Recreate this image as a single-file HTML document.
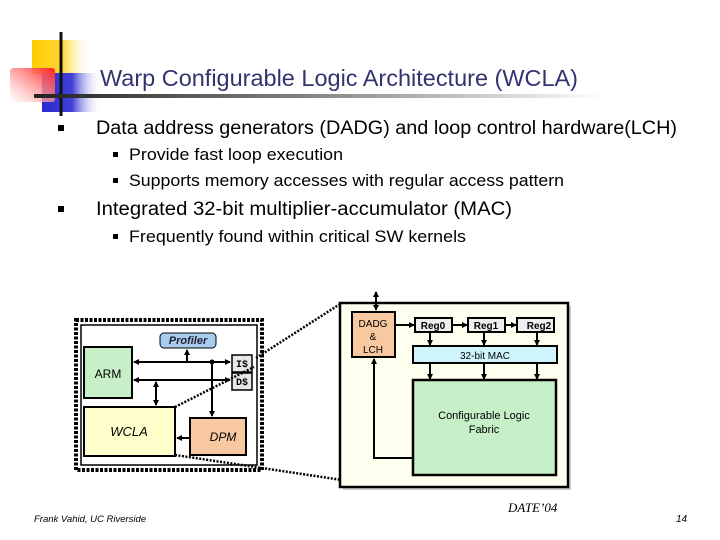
<!DOCTYPE html>
<html><head><meta charset="utf-8"><style>
html,body{margin:0;padding:0;background:#fff;}
svg{display:block;}
</style></head><body>
<svg width="720" height="540" viewBox="0 0 720 540" xmlns="http://www.w3.org/2000/svg" font-family="Liberation Sans, sans-serif">
<defs>
<linearGradient id="gy" x1="0" x2="1"><stop offset="0" stop-color="#ffcc00"/><stop offset="0.5" stop-color="#ffd633"/><stop offset="1" stop-color="#fff" stop-opacity="0"/></linearGradient>
<linearGradient id="gb" x1="0" x2="1"><stop offset="0" stop-color="#2a2ad0"/><stop offset="0.5" stop-color="#4040d8"/><stop offset="1" stop-color="#fff" stop-opacity="0"/></linearGradient>
<linearGradient id="gr" x1="1" x2="0" y1="0" y2="1"><stop offset="0" stop-color="#ff2020"/><stop offset="1" stop-color="#ffffff" stop-opacity="0.6"/></linearGradient>
<linearGradient id="gl" x1="0" x2="1"><stop offset="0" stop-color="#222"/><stop offset="0.5" stop-color="#888"/><stop offset="1" stop-color="#fff"/></linearGradient>
<marker id="a" markerWidth="6" markerHeight="6" refX="5" refY="3" orient="auto-start-reverse" markerUnits="userSpaceOnUse"><path d="M0,0 L6,3 L0,6 z" fill="#000"/></marker>
</defs>
<!-- logo -->
<rect x="32" y="40" width="60" height="34" fill="url(#gy)"/>
<rect x="42" y="73" width="60" height="39" fill="url(#gb)"/>
<rect x="10" y="68" width="45" height="34" rx="3" fill="url(#gr)"/>
<line x1="61" y1="32" x2="61" y2="116" stroke="#111" stroke-width="3"/>
<rect x="34" y="94" width="570" height="4" fill="url(#gl)"/>
<text x="100" y="86" font-size="23" fill="#333370" textLength="478" lengthAdjust="spacingAndGlyphs">Warp Configurable Logic Architecture (WCLA)</text>
<!-- bullets -->
<g fill="#000">
<rect x="58" y="125" width="6" height="6"/>
<rect x="113" y="152" width="5" height="5"/>
<rect x="113" y="178" width="5" height="5"/>
<rect x="58" y="206" width="6" height="6"/>
<rect x="113" y="234" width="5" height="5"/>
</g>
<g fill="#000">
<text x="96" y="134" font-size="19" textLength="581" lengthAdjust="spacingAndGlyphs">Data address generators (DADG) and loop control hardware(LCH)</text>
<text x="129" y="160" font-size="17" textLength="214" lengthAdjust="spacingAndGlyphs">Provide fast loop execution</text>
<text x="129" y="186" font-size="17" textLength="435" lengthAdjust="spacingAndGlyphs">Supports memory accesses with regular access pattern</text>
<text x="96" y="215" font-size="19" textLength="416" lengthAdjust="spacingAndGlyphs">Integrated 32-bit multiplier-accumulator (MAC)</text>
<text x="129" y="242" font-size="17" textLength="337" lengthAdjust="spacingAndGlyphs">Frequently found within critical SW kernels</text>
</g>
<!-- chip -->
<rect x="76" y="320" width="186" height="150" fill="#fff" stroke="#000" stroke-width="4" stroke-dasharray="3,1.5"/>
<rect x="81" y="325" width="176" height="140" fill="#fff" stroke="#000" stroke-width="1.5"/>
<rect x="84" y="347" width="48" height="51" fill="#c8f0c8" stroke="#000" stroke-width="2"/>
<text x="108" y="378" font-size="12" text-anchor="middle">ARM</text>
<rect x="84" y="407" width="91" height="49" fill="#ffffcc" stroke="#000" stroke-width="2"/>
<text x="129" y="436" font-size="13" font-style="italic" text-anchor="middle">WCLA</text>
<rect x="190" y="418" width="56" height="37" fill="#f8c8a0" stroke="#000" stroke-width="2"/>
<text x="223" y="441" font-size="12" font-style="italic" text-anchor="middle">DPM</text>
<rect x="160" y="333" width="56" height="15" rx="4" fill="#a8ccf0" stroke="#000" stroke-width="1"/>
<text x="188" y="344" font-size="11" font-weight="bold" font-style="italic" text-anchor="middle" fill="#223">Profiler</text>
<rect x="232" y="355" width="20" height="17" fill="#e8e8e8" stroke="#000" stroke-width="1.5"/>
<rect x="232" y="373" width="20" height="17" fill="#e8e8e8" stroke="#000" stroke-width="1.5"/>
<text x="242" y="367" font-size="10" font-weight="bold" text-anchor="middle" font-family="Liberation Mono, monospace">I$</text>
<text x="242" y="385" font-size="10" font-weight="bold" text-anchor="middle" font-family="Liberation Mono, monospace">D$</text>
<g stroke="#000" stroke-width="2" fill="none">
<line x1="134" y1="362" x2="230" y2="362" marker-start="url(#a)" marker-end="url(#a)"/>
<line x1="134" y1="380" x2="230" y2="380" marker-start="url(#a)" marker-end="url(#a)"/>
<line x1="187" y1="362" x2="187" y2="350" marker-end="url(#a)"/>
<line x1="212" y1="362" x2="212" y2="416" marker-end="url(#a)"/>
<line x1="156" y1="382" x2="156" y2="405" marker-start="url(#a)" marker-end="url(#a)"/>
<line x1="190" y1="438" x2="177" y2="438" marker-end="url(#a)"/>
</g>
<circle cx="212" cy="362" r="2.5" fill="#000"/>
<!-- dotted zoom lines -->
<g stroke="#000" stroke-width="2.5" stroke-dasharray="2,1.5" fill="none">
<line x1="256" y1="358" x2="340" y2="304"/>
<line x1="175" y1="407" x2="254" y2="367"/>
<line x1="175" y1="455" x2="342" y2="480"/>
</g>
<!-- right box -->
<rect x="343" y="306" width="228" height="184" fill="#ccc"/>
<rect x="340" y="303" width="228" height="184" fill="#fffff0" stroke="#000" stroke-width="2.5"/>
<rect x="352" y="312" width="43" height="45" fill="#f8c8a0" stroke="#000" stroke-width="2"/>
<text x="373" y="327" font-size="10" text-anchor="middle">DADG</text>
<text x="373" y="340" font-size="10" text-anchor="middle">&amp;</text>
<text x="373" y="353" font-size="10" text-anchor="middle">LCH</text>
<rect x="415" y="318" width="37" height="14" fill="#eee" stroke="#000" stroke-width="2"/>
<rect x="468" y="318" width="37" height="14" fill="#eee" stroke="#000" stroke-width="2"/>
<rect x="517" y="318" width="37" height="14" fill="#eee" stroke="#000" stroke-width="2"/>
<text x="433" y="329" font-size="10" font-weight="bold" text-anchor="middle">Reg0</text>
<text x="486" y="329" font-size="10" font-weight="bold" text-anchor="middle">Reg1</text>
<text x="539" y="329" font-size="10" font-weight="bold" text-anchor="middle">Reg2</text>
<rect x="413" y="346" width="144" height="17" fill="#d0f4fc" stroke="#000" stroke-width="2"/>
<text x="485" y="359" font-size="10" text-anchor="middle">32-bit MAC</text>
<rect x="413" y="380" width="143" height="95" fill="#c8f0c8" stroke="#000" stroke-width="2.5"/>
<text x="484" y="419" font-size="11" text-anchor="middle">Configurable Logic</text>
<text x="484" y="433" font-size="11" text-anchor="middle">Fabric</text>
<g stroke="#000" stroke-width="2" fill="none">
<line x1="376" y1="292" x2="376" y2="310" marker-start="url(#a)" marker-end="url(#a)"/>
<line x1="395" y1="325" x2="414" y2="325" marker-end="url(#a)"/>
<line x1="452" y1="325" x2="467" y2="325" marker-end="url(#a)"/>
<line x1="505" y1="325" x2="516" y2="325" marker-end="url(#a)"/>
<line x1="430" y1="333" x2="430" y2="345" marker-end="url(#a)"/>
<line x1="484" y1="333" x2="484" y2="345" marker-end="url(#a)"/>
<line x1="537" y1="333" x2="537" y2="345" marker-end="url(#a)"/>
<line x1="430" y1="364" x2="430" y2="379" marker-end="url(#a)"/>
<line x1="484" y1="364" x2="484" y2="379" marker-end="url(#a)"/>
<line x1="537" y1="364" x2="537" y2="379" marker-end="url(#a)"/>
<polyline points="413,458 374,458 374,359" marker-end="url(#a)"/>
</g>
<!-- footer -->
<text x="34" y="522" font-size="9.5" font-style="italic">Frank Vahid, UC Riverside</text>
<text x="508" y="512" font-size="13" font-style="italic" font-family="Liberation Serif, serif">DATE’04</text>
<text x="676" y="522" font-size="10" font-style="italic">14</text>
</svg>
</body></html>
